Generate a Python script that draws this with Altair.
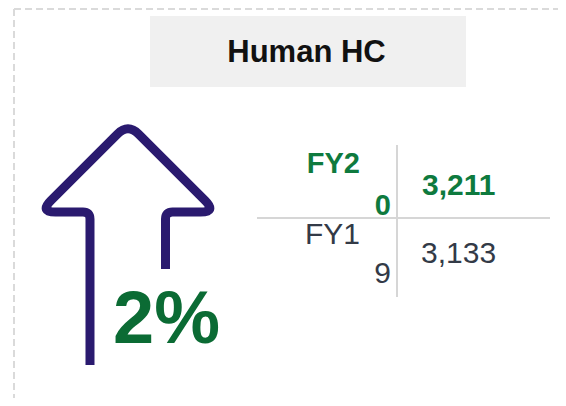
import math
import altair as alt
import pandas as pd

# ---- data ----
title_text = "Human HC"
periods = ["FY20", "FY19"]
headcounts = [3211, 3133]
change_label = f"{round((headcounts[0] - headcounts[1]) / headcounts[1] * 100)}%"

# ---- styles ----
FONT = "Liberation Sans, Arial, sans-serif"
GREEN = "#0e7a3e"
DARK_GREEN = "#0b6b34"
SLATE = "#333a47"
PURPLE = "#2a1a6f"
GRID = "#d6d6d6"

W, H = 550, 390
X = alt.Scale(domain=[8, 8 + W], range=[0, W], nice=False, zero=False)
Y = alt.Scale(domain=[8, 8 + H], range=[0, H], nice=False, zero=False)


def enc_xy(ch):
    return ch.encode(
        x=alt.X("x:Q", scale=X, axis=None),
        y=alt.Y("y:Q", scale=Y, axis=None),
    )


def txt(text, x, y, size, color, weight, align):
    df = pd.DataFrame({"t": [text], "x": [x], "y": [y]})
    return alt.Chart(df).mark_text(
        align=align, baseline="alphabetic", fontSize=size,
        fontWeight=weight, color=color, font=FONT
    ).encode(
        x=alt.X("x:Q", scale=X, axis=None),
        y=alt.Y("y:Q", scale=Y, axis=None),
        text="t:N",
    )


def rules(df, color, width, dash=None):
    kw = dict(color=color, strokeWidth=width)
    if dash:
        kw["strokeDash"] = dash
    return alt.Chart(df).mark_rule(**kw).encode(
        x=alt.X("x:Q", scale=X, axis=None), x2="x2:Q",
        y=alt.Y("y:Q", scale=Y, axis=None), y2="y2:Q",
    )


# dashed card border
border = rules(pd.DataFrame({"x": [14, 14], "x2": [8 + W, 14],
                             "y": [9, 9], "y2": [9, 8 + H]}),
               "#dadada", 2, [7, 4])

# title box
title_box = alt.Chart(pd.DataFrame({"x": [150], "x2": [466], "y": [16], "y2": [87]})).mark_rect(
    color="#f0f0f0").encode(
    x=alt.X("x:Q", scale=X, axis=None), x2="x2:Q",
    y=alt.Y("y:Q", scale=Y, axis=None), y2="y2:Q")

# arrow outline as custom symbol
pts = [(90, 365), (90, 212), (39.5, 212), (128, 123.5), (216.5, 212), (165.5, 212), (165.5, 269)]
radii = [0, 7, 16, 15, 16, 7, 0]
CX, CY, S = 128, 247.5, 120.0


def nrm(p):
    return f"{(p[0] - CX) / S:.4f},{(p[1] - CY) / S:.4f}"


cmds = ["M" + nrm(pts[0])]
for i in range(1, len(pts) - 1):
    P, V, N = pts[i - 1], pts[i], pts[i + 1]
    r = radii[i]
    d1 = (P[0] - V[0], P[1] - V[1]); l1 = math.hypot(*d1)
    d2 = (N[0] - V[0], N[1] - V[1]); l2 = math.hypot(*d2)
    a = (V[0] + r * d1[0] / l1, V[1] + r * d1[1] / l1)
    b = (V[0] + r * d2[0] / l2, V[1] + r * d2[1] / l2)
    cmds.append("L" + nrm(a))
    cmds.append("Q" + nrm(V) + " " + nrm(b))
cmds.append("L" + nrm(pts[-1]))
arrow_path = " ".join(cmds)

arrow = enc_xy(alt.Chart(pd.DataFrame({"x": [CX], "y": [CY]})).mark_point(
    shape=arrow_path, size=(2 * S) ** 2, filled=False, color=PURPLE,
    stroke=PURPLE, strokeWidth=9, opacity=1, strokeJoin="round", strokeCap="butt"))

# table lines
table_lines = rules(pd.DataFrame({"x": [397, 257], "x2": [397, 550],
                                  "y": [145, 218], "y2": [297, 218]}), GRID, 2)

layers = [
    border,
    title_box,
    txt(title_text, 306.5, 62, 31, "#111111", "bold", "center"),
    arrow,
    txt(change_label, 113, 343, 74, DARK_GREEN, "bold", "left"),
    table_lines,
    txt(periods[0][:-1], 360, 173, 29, GREEN, "bold", "right"),
    txt(periods[0][-1:], 391, 215, 29, GREEN, "bold", "right"),
    txt(f"{headcounts[0]:,}", 422, 195, 30, GREEN, "bold", "left"),
    txt(periods[1][:-1], 360, 244, 30, SLATE, "normal", "right"),
    txt(periods[1][-1:], 391, 283, 30, SLATE, "normal", "right"),
    txt(f"{headcounts[1]:,}", 421, 263, 30, SLATE, "normal", "left"),
]

chart = alt.layer(*layers).properties(
    width=W, height=H, padding=0, autosize="none", background="white"
).configure_view(stroke=None)

chart.save("out.html", embed_options={"renderer": "svg", "actions": False})
